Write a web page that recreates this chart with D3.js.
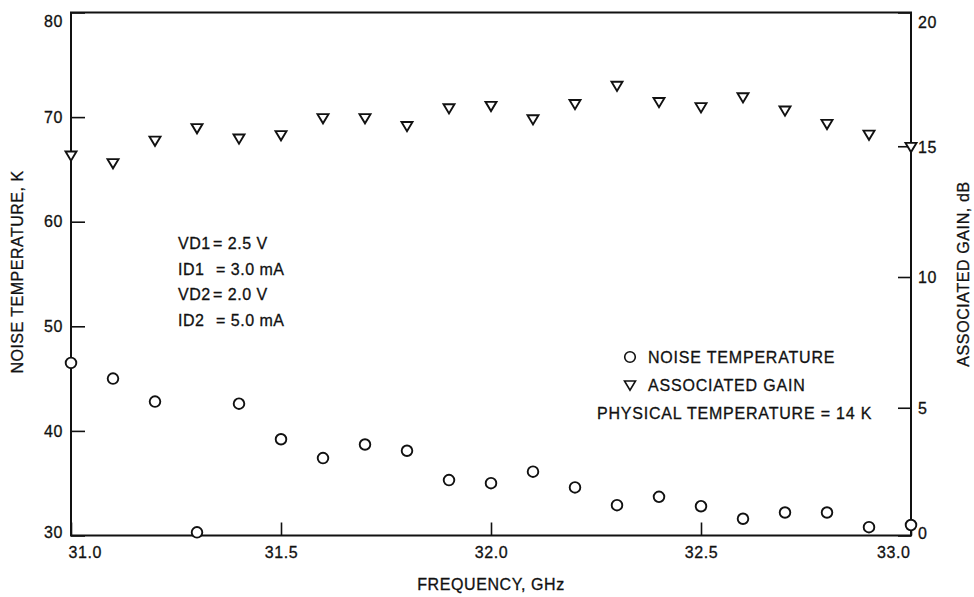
<!DOCTYPE html>
<html>
<head>
<meta charset="utf-8">
<script src="https://cdn.jsdelivr.net/npm/d3@7"></script>
<style>
  html, body { margin: 0; padding: 0; background: #fff; }
  svg { display: block; font-family: "Liberation Sans", Arial, Helvetica, sans-serif; }
  .axis text { font-size: 16px; fill: #111; letter-spacing: 0.6px; stroke: #111; stroke-width: 0.3px; }
  .axis line { stroke: #111; stroke-width: 1.6; }
  .axis path.domain { display: none; }
  .lbl { font-size: 16px; fill: #111; letter-spacing: 0.8px; stroke: #111; stroke-width: 0.3px; }
</style>
</head>
<body>
<svg id="chart" width="974" height="597"></svg>
<script>
// Frequency sweep, GHz
const freqs = [31.0, 31.1, 31.2, 31.3, 31.4, 31.5, 31.6, 31.7, 31.8, 31.9, 32.0,
               32.1, 32.2, 32.3, 32.4, 32.5, 32.6, 32.7, 32.8, 32.9, 33.0];
// Noise temperature, K (left axis)
const noiseTemp = [46.5, 45.0, 42.8, 30.3, 42.6, 39.2, 37.4, 38.7, 38.1, 35.3, 35.0,
                   36.1, 34.6, 32.9, 33.7, 32.8, 31.6, 32.2, 32.2, 30.8, 31.0];
// Associated gain, dB (right axis)
const gain = [14.53, 14.24, 15.10, 15.58, 15.18, 15.31, 15.96, 15.96, 15.66, 16.34, 16.43,
              15.92, 16.50, 17.20, 16.58, 16.38, 16.76, 16.25, 15.74, 15.33, 14.86];

const xTicks = [31.0, 31.5, 32.0, 32.5, 33.0];
const leftTicks = [30, 40, 50, 60, 70, 80];
const rightTicks = [0, 5, 10, 15, 20];

const biasNames = ["VD1", "ID1", "VD2", "ID2"];
const biasValues = ["= 2.5 V", "= 3.0 mA", "= 2.0 V", "= 5.0 mA"];
const legendNames = ["NOISE TEMPERATURE", "ASSOCIATED GAIN"];
const physicalNote = "PHYSICAL TEMPERATURE = 14 K";

const svg = d3.select("#chart");
const plot = { left: 71, right: 911, top: 12.5, bottom: 535.5 };

const x = d3.scaleLinear().domain([31.0, 33.0]).range([plot.left, plot.right]);
const yL = d3.scaleLinear().domain([30, 80]).range([plot.bottom, plot.top]);
const yR = d3.scaleLinear().domain([0, 20]).range([plot.bottom, plot.top]);

// Left axis: inward ticks
const gL = svg.append("g").attr("class", "axis")
  .attr("transform", `translate(${plot.left},0)`)
  .call(d3.axisLeft(yL).tickValues(leftTicks).tickSizeInner(-14).tickSizeOuter(0).tickPadding(8));
gL.selectAll(".tick text").attr("dy", d => d === 80 ? "0.85em" : d === 30 ? "0.1em" : "0.32em");

// Right axis
const gR = svg.append("g").attr("class", "axis")
  .attr("transform", `translate(${plot.right},0)`)
  .call(d3.axisRight(yR).tickValues(rightTicks).tickSizeInner(-13).tickSizeOuter(0).tickPadding(7));
gR.selectAll(".tick text").attr("dy", d => d === 20 ? "0.95em" : d === 0 ? "0.2em" : "0.55em");
gR.selectAll(".tick line").attr("transform", d => (d === 0 || d === 20) ? null : "translate(0,3)");

// Bottom axis
const gB = svg.append("g").attr("class", "axis")
  .attr("transform", `translate(0,${plot.bottom})`)
  .call(d3.axisBottom(x).tickValues(xTicks).tickFormat(d3.format(".1f"))
        .tickSizeInner(-13).tickSizeOuter(0).tickPadding(11));
gB.selectAll(".tick text")
  .attr("text-anchor", d => d === 31.0 ? "start" : d === 33.0 ? "end" : "middle")
  .attr("x", d => d === 31.0 ? -3 : d === 33.0 ? -1 : 0);

// Frame
svg.append("rect")
  .attr("x", plot.left).attr("y", plot.top)
  .attr("width", plot.right - plot.left).attr("height", plot.bottom - plot.top)
  .attr("fill", "none").attr("stroke", "#111").attr("stroke-width", 2);

// Axis titles
svg.append("text").attr("class", "lbl")
  .attr("x", (plot.left + plot.right) / 2).attr("y", 590)
  .attr("text-anchor", "middle").style("letter-spacing", "0.6px")
  .text("FREQUENCY, GHz");
svg.append("text").attr("class", "lbl")
  .attr("transform", "translate(23,272) rotate(-90)")
  .attr("text-anchor", "middle").style("letter-spacing", "0.5px")
  .text("NOISE TEMPERATURE, K");
svg.append("text").attr("class", "lbl")
  .attr("transform", "translate(969,274) rotate(-90)")
  .attr("text-anchor", "middle").style("letter-spacing", "0.6px")
  .text("ASSOCIATED GAIN, dB");

// Marker shapes
const circleR = 5.3;
const triPath = "M-5.5,-4 L5.5,-4 L0,5.2 Z";

// Noise temperature circles
svg.append("g").selectAll("circle").data(freqs).join("circle")
  .attr("cx", d => x(d))
  .attr("cy", (d, i) => yL(noiseTemp[i]))
  .attr("r", circleR)
  .attr("fill", "#fff").attr("stroke", "#111").attr("stroke-width", 1.9);

// Associated gain triangles
svg.append("g").selectAll("path").data(freqs).join("path")
  .attr("d", triPath)
  .attr("transform", (d, i) => `translate(${x(d)},${yR(gain[i])})`)
  .attr("fill", "#fff").attr("stroke", "#111").attr("stroke-width", 1.9)
  .attr("stroke-linejoin", "miter");

// Bias conditions
const bias = svg.append("g");
const biasEqX = [213, 216, 213, 216];
biasNames.forEach((n, i) => {
  const yy = 249 + i * 25.7;
  bias.append("text").attr("class", "lbl").attr("x", 178).attr("y", yy).style("letter-spacing", "0.5px").text(n);
  bias.append("text").attr("class", "lbl").attr("x", biasEqX[i]).attr("y", yy).style("letter-spacing", "0.5px").text(biasValues[i]);
});

// Legend
const lg = svg.append("g");
lg.append("circle").attr("cx", 630).attr("cy", 357).attr("r", circleR)
  .attr("fill", "#fff").attr("stroke", "#111").attr("stroke-width", 1.6);
lg.append("path").attr("d", triPath).attr("transform", "translate(630,385)")
  .attr("fill", "#fff").attr("stroke", "#111").attr("stroke-width", 1.6);
legendNames.forEach((n, i) => {
  lg.append("text").attr("class", "lbl").attr("x", 648).attr("y", 363 + i * 28).text(n);
});
lg.append("text").attr("class", "lbl").attr("x", 597).attr("y", 419).text(physicalNote);
</script>
</body>
</html>
